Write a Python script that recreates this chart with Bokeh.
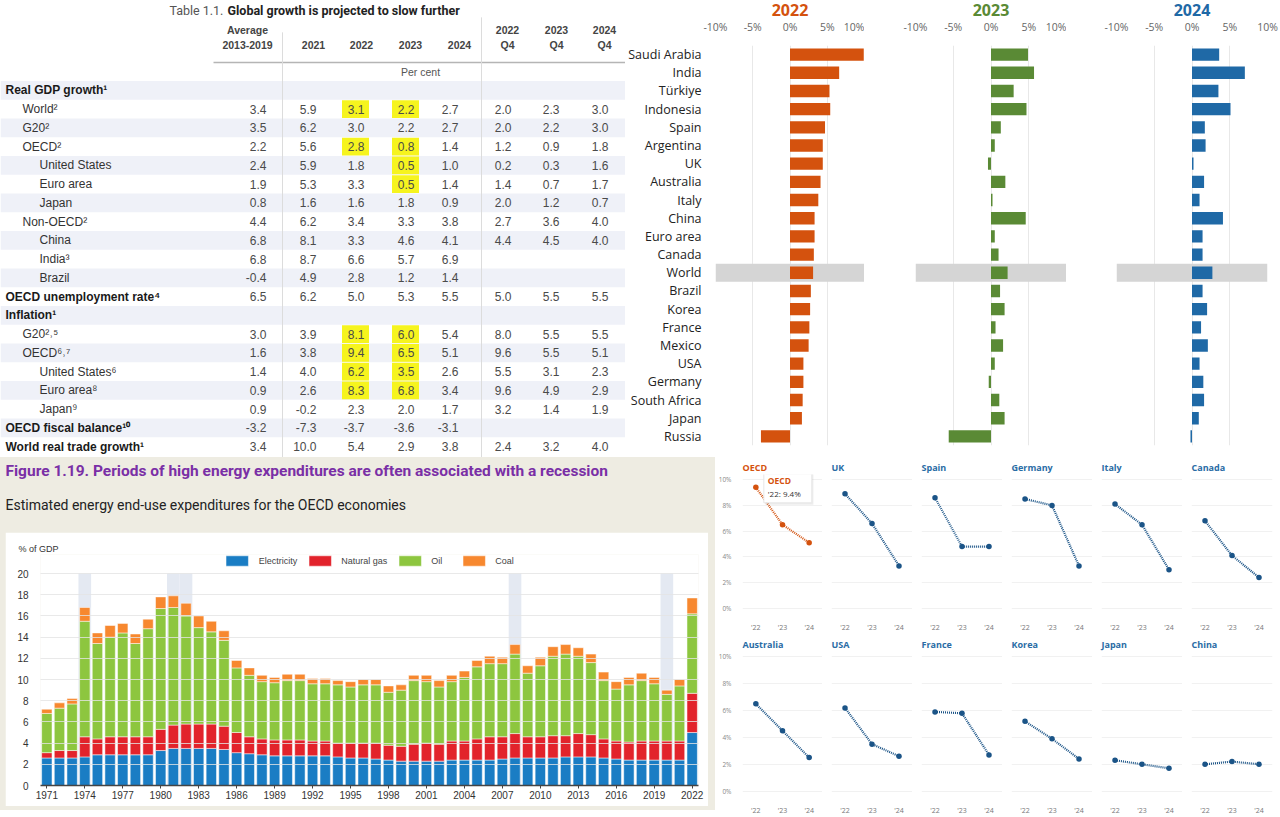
from bokeh.plotting import figure
from bokeh.layouts import row, column
from bokeh.models import ColumnDataSource, FactorRange, Range1d, FixedTicker
from bokeh.core.properties import value
from bokeh.embed import file_html
from bokeh.resources import INLINE

# ===================== DATA =====================
# ---- Table 1.1 ----
table_title_prefix = "Table 1.1. "
table_title = "Global growth is projected to slow further"
table_headers_top = ["Average", "", "", "", "", "2022", "2023", "2024"]
table_headers_bottom = ["2013-2019", "2021", "2022", "2023", "2024", "Q4", "Q4", "Q4"]
table_unit = "Per cent"
row_labels = ["Real GDP growth¹", "World²", "G20²", "OECD²", "United States", "Euro area", "Japan",
              "Non-OECD²", "China", "India³", "Brazil", "OECD unemployment rate⁴", "Inflation¹",
              "G20²˒⁵", "OECD⁶˒⁷", "United States⁶", "Euro area⁸", "Japan⁹",
              "OECD fiscal balance¹⁰", "World real trade growth¹"]
row_levels = [0, 1, 1, 1, 2, 2, 2, 1, 2, 2, 2, 0, 0, 1, 1, 2, 2, 2, 0, 0]
col_avg = [None, 3.4, 3.5, 2.2, 2.4, 1.9, 0.8, 4.4, 6.8, 6.8, -0.4, 6.5, None, 3.0, 1.6, 1.4, 0.9, 0.9, -3.2, 3.4]
col_2021 = [None, 5.9, 6.2, 5.6, 5.9, 5.3, 1.6, 6.2, 8.1, 8.7, 4.9, 6.2, None, 3.9, 3.8, 4.0, 2.6, -0.2, -7.3, 10.0]
col_2022 = [None, 3.1, 3.0, 2.8, 1.8, 3.3, 1.6, 3.4, 3.3, 6.6, 2.8, 5.0, None, 8.1, 9.4, 6.2, 8.3, 2.3, -3.7, 5.4]
col_2023 = [None, 2.2, 2.2, 0.8, 0.5, 0.5, 1.8, 3.3, 4.6, 5.7, 1.2, 5.3, None, 6.0, 6.5, 3.5, 6.8, 2.0, -3.6, 2.9]
col_2024 = [None, 2.7, 2.7, 1.4, 1.0, 1.4, 0.9, 3.8, 4.1, 6.9, 1.4, 5.5, None, 5.4, 5.1, 2.6, 3.4, 1.7, -3.1, 3.8]
col_2022q4 = [None, 2.0, 2.0, 1.2, 0.2, 1.4, 2.0, 2.7, 4.4, None, None, 5.0, None, 8.0, 9.6, 5.5, 9.6, 3.2, None, 2.4]
col_2023q4 = [None, 2.3, 2.2, 0.9, 0.3, 0.7, 1.2, 3.6, 4.5, None, None, 5.5, None, 5.5, 5.5, 3.1, 4.9, 1.4, None, 3.2]
col_2024q4 = [None, 3.0, 3.0, 1.8, 1.6, 1.7, 0.7, 4.0, 4.0, None, None, 5.5, None, 5.5, 5.1, 2.3, 2.9, 1.9, None, 4.0]
table_columns = [col_avg, col_2021, col_2022, col_2023, col_2024, col_2022q4, col_2023q4, col_2024q4]
highlight_cells = [(1, 2), (1, 3), (3, 2), (3, 3), (4, 3), (5, 3),
                   (13, 2), (13, 3), (14, 2), (14, 3), (15, 2), (15, 3), (16, 2), (16, 3)]

# ---- GDP growth bars ----
countries = ["Saudi Arabia", "India", "Türkiye", "Indonesia", "Spain", "Argentina", "UK", "Australia",
             "Italy", "China", "Euro area", "Canada", "World", "Brazil", "Korea", "France", "Mexico",
             "USA", "Germany", "South Africa", "Japan", "Russia"]
growth_2022 = [9.9, 6.6, 5.3, 5.4, 4.7, 4.4, 4.4, 4.1, 3.8, 3.3, 3.3, 3.2, 3.1, 2.8, 2.7, 2.6, 2.5, 1.8, 1.8, 1.7, 1.6, -3.9]
growth_2023 = [4.9, 5.7, 3.0, 4.7, 1.3, 0.5, -0.4, 1.9, 0.2, 4.6, 0.5, 1.0, 2.2, 1.2, 1.8, 0.6, 1.6, 0.5, -0.3, 1.1, 1.8, -5.6]
growth_2024 = [3.6, 7.0, 3.5, 5.1, 1.7, 1.8, 0.2, 1.6, 1.0, 4.1, 1.4, 1.4, 2.7, 1.4, 2.0, 1.2, 2.1, 1.0, 1.5, 1.6, 0.9, -0.2]
highlight_country = "World"
bar_ticks = [-10, -5, 0, 5, 10]

# ---- Figure 1.19 ----
fig_title = "Figure 1.19. Periods of high energy expenditures are often associated with a recession"
fig_subtitle = "Estimated energy end-use expenditures for the OECD economies"
years = [1971, 1972, 1973, 1974, 1975, 1976, 1977, 1978, 1979, 1980,
         1981, 1982, 1983, 1984, 1985, 1986, 1987, 1988, 1989, 1990,
         1991, 1992, 1993, 1994, 1995, 1996, 1997, 1998, 1999, 2000,
         2001, 2002, 2003, 2004, 2005, 2006, 2007, 2008, 2009, 2010,
         2011, 2012, 2013, 2014, 2015, 2016, 2017, 2018, 2019, 2020,
         2021, 2022]
electricity = [2.6, 2.6, 2.6, 2.7, 2.9, 2.9, 2.9, 2.9, 2.9, 3.3,
               3.5, 3.5, 3.5, 3.5, 3.4, 3.1, 3.0, 2.9, 2.8, 2.8,
               2.8, 2.8, 2.8, 2.7, 2.6, 2.6, 2.5, 2.4, 2.3, 2.3,
               2.3, 2.3, 2.4, 2.4, 2.4, 2.4, 2.5, 2.6, 2.6, 2.6,
               2.6, 2.7, 2.7, 2.7, 2.6, 2.5, 2.4, 2.4, 2.4, 2.4,
               2.4, 5.0]
natural_gas = [0.5, 0.7, 0.7, 1.9, 1.5, 1.7, 1.7, 1.7, 1.7, 2.0,
               2.2, 2.3, 2.3, 2.3, 2.2, 1.9, 1.6, 1.5, 1.5, 1.5,
               1.5, 1.4, 1.4, 1.3, 1.4, 1.4, 1.5, 1.4, 1.4, 1.6,
               1.7, 1.6, 1.8, 1.8, 2.0, 2.2, 2.1, 2.3, 2.0, 2.0,
               2.1, 2.0, 2.2, 2.1, 1.8, 1.7, 1.7, 1.8, 1.8, 1.8,
               1.8, 3.7]
oil = [3.7, 4.0, 4.4, 10.9, 9.0, 9.4, 9.8, 8.8, 10.2, 11.4,
       11.1, 10.2, 9.1, 8.7, 8.1, 6.1, 5.8, 5.4, 5.4, 5.6,
       5.6, 5.4, 5.4, 5.5, 5.3, 5.5, 5.5, 5.0, 5.3, 6.0,
       5.8, 5.4, 5.6, 6.0, 6.8, 6.9, 6.9, 7.5, 6.0, 6.7,
       7.5, 7.7, 7.3, 6.8, 5.5, 4.9, 5.4, 5.7, 5.4, 4.4,
       5.2, 7.5]
coal = [0.4, 0.5, 0.5, 1.3, 1.0, 1.1, 0.9, 0.9, 0.9, 1.1,
        1.1, 1.2, 1.1, 1.0, 0.9, 0.7, 0.7, 0.6, 0.5, 0.6,
        0.6, 0.5, 0.5, 0.4, 0.5, 0.5, 0.5, 0.6, 0.5, 0.5,
        0.6, 0.6, 0.6, 0.6, 0.6, 0.7, 0.6, 0.9, 0.7, 0.8,
        0.9, 0.9, 0.8, 0.8, 0.8, 0.7, 0.7, 0.7, 0.6, 0.4,
        0.6, 1.5]
energy_series = ["Electricity", "Natural gas", "Oil", "Coal"]
recession_years = [1974, 1981, 1982, 2008, 2020]
energy_yticks = [0, 2, 4, 6, 8, 10, 12, 14, 16, 18, 20]
recession_top = 20

# ---- Inflation small multiples ----
mm_names = ["OECD", "UK", "Spain", "Germany", "Italy", "Canada",
            "Australia", "USA", "France", "Korea", "Japan", "China"]
mm_years = ["'22", "'23", "'24"]
mm_values = [[9.4, 6.5, 5.1], [8.9, 6.6, 3.3], [8.6, 4.8, 4.8], [8.5, 8.0, 3.3], [8.1, 6.5, 3.0], [6.8, 4.1, 2.4],
             [6.5, 4.5, 2.5], [6.2, 3.5, 2.6], [5.9, 5.8, 2.7], [5.2, 3.9, 2.4], [2.3, 2.0, 1.7], [2.0, 2.2, 2.0]]
mm_yticks = [0, 2, 4, 6, 8, 10]
mm_highlight = "OECD"

# ===================== STYLE =====================
BEIGE = "#eeece2"
ORANGE = "#d4520e"
GREEN = "#5a8a35"
BLUE = "#1f69a6"
SANS = "Liberation Sans"
COND = "Roboto"
OPEN = "Open Sans"


def base(**kw):
    p = figure(output_backend="svg", toolbar_location=None, **kw)
    p.frame_align = False
    return p


# ===================== TABLE =====================
COL_RIGHT = [266, 316, 364, 414, 458, 511, 559, 608]
COL_HEAD = [247, 313, 361, 410, 459, 507, 556, 604]

tbl = base(width=625, height=457, x_range=Range1d(0, 625), y_range=Range1d(19.58, -4.80), min_border=0)
tbl.axis.visible = False
tbl.grid.visible = False
tbl.outline_line_color = None

shade = [i for i in range(len(row_labels)) if i % 2 == 0]
tbl.quad(left=0, right=625, top=[r - 0.5 for r in shade], bottom=[r + 0.5 for r in shade],
         color="#eff1f8", line_color=None)
tbl.rect(x=[COL_RIGHT[c] - 9 for r, c in highlight_cells], y=[r for r, c in highlight_cells],
         width=27, height=0.95, color="#f6f41e", line_color=None)
tbl.segment(x0=[213], y0=[-1.49], x1=[625], y1=[-1.49], line_color="#b5b5b5", line_width=1.5)
tbl.segment(x0=[282, 481], y0=[-3.1, -3.9], x1=[282, 481], y1=[19.58, 19.58], line_color="#dcdcdc", line_width=1)

tbl.text(x=[226], y=[-4.27], text=[table_title_prefix], text_align="right", text_baseline="middle",
         text_font=value(COND), text_font_size="12.5px", text_color="#555555")
tbl.text(x=[227], y=[-4.27], text=[table_title], text_align="left", text_baseline="middle",
         text_font=value(COND), text_font_size="12.5px", text_font_style="bold", text_color="#222222")
tbl.text(x=COL_HEAD, y=[-3.2] * 8, text=table_headers_top, text_align="center", text_baseline="middle",
         text_font=value(SANS), text_font_size="10.5px", text_font_style="bold", text_color="#444444")
tbl.text(x=COL_HEAD, y=[-2.43] * 8, text=table_headers_bottom, text_align="center", text_baseline="middle",
         text_font=value(SANS), text_font_size="10.5px", text_font_style="bold", text_color="#444444")
tbl.text(x=[420], y=[-0.96], text=[table_unit], text_align="center", text_baseline="middle",
         text_font=value(SANS), text_font_size="10.5px", text_color="#555555")

for lvl_bold in (True, False):
    idx = [i for i, l in enumerate(row_levels) if (l == 0) == lvl_bold]
    tbl.text(x=[5 + 17 * row_levels[i] for i in idx], y=idx, text=[row_labels[i] for i in idx],
             text_align="left", text_baseline="middle", text_font=value(SANS), text_font_size="12px",
             text_font_style="bold" if lvl_bold else "normal",
             text_color="#1a1a1a" if lvl_bold else "#333333")

cx, cy, ct = [], [], []
for c, col in enumerate(table_columns):
    for r, v in enumerate(col):
        if v is not None:
            cx.append(COL_RIGHT[c])
            cy.append(r)
            ct.append(f"{v:.1f}")
tbl.text(x=cx, y=cy, text=ct, text_align="right", text_baseline="middle", text_font=value(SANS),
         text_font_size="12px", text_color="#4a4a4a")


# ===================== BAR PANELS =====================
def bar_panel(title, vals, color, width, left, right, show_names):
    p = base(width=width, height=457, y_range=FactorRange(factors=countries[::-1]),
             x_range=Range1d(-10, 10), x_axis_location="above", title=title,
             min_border_left=left, min_border_right=right, min_border_top=45, min_border_bottom=12)
    p.title.align = "center"
    p.title.text_color = color
    p.title.text_font_size = "16px"
    p.title.text_font = OPEN
    p.title.text_font_style = "bold"
    p.title.standoff = 2
    p.outline_line_color = None
    p.hbar(y=[highlight_country], left=-10, right=10, height=1.0, color="#d5d5d5", line_color=None)
    p.hbar(y=countries, left=0, right=vals, height=0.68, color=color, line_color=None)
    p.xaxis.ticker = FixedTicker(ticks=bar_ticks)
    p.xaxis.major_label_overrides = {t: f"{t}%" for t in bar_ticks}
    p.xaxis.axis_line_color = None
    p.xaxis.major_tick_line_color = None
    p.xaxis.minor_tick_line_color = None
    p.xaxis.major_label_text_font_size = "10.5px"
    p.xaxis.major_label_text_color = "#666666"
    p.xaxis.major_label_text_font = OPEN
    p.xaxis.major_label_standoff = 6
    p.xgrid.ticker = FixedTicker(ticks=bar_ticks)
    p.xgrid.grid_line_color = "#e8e8e8"
    p.ygrid.grid_line_color = None
    if show_names:
        p.yaxis.axis_line_color = None
        p.yaxis.major_tick_line_color = None
        p.yaxis.minor_tick_line_color = None
        p.yaxis.major_label_text_font_size = "12.5px"
        p.yaxis.major_label_text_font = OPEN
        p.yaxis.major_label_text_color = "#222222"
        p.yaxis.major_label_standoff = 8
    else:
        p.yaxis.visible = False
    return p


b1 = bar_panel("2022", growth_2022, ORANGE, 239, 88, 0, True)
b2 = bar_panel("2023", growth_2023, GREEN, 202, 51, 0, False)
b3 = bar_panel("2024", growth_2024, BLUE, 214, 50, 13, False)

# ===================== FIGURE 1.19 =====================
hdr = base(width=715, height=75, x_range=Range1d(0, 715), y_range=Range1d(75, 0), min_border=0,
           background_fill_color=BEIGE, border_fill_color=BEIGE)
hdr.axis.visible = False
hdr.grid.visible = False
hdr.outline_line_color = None
hdr.text(x=[5], y=[13], text=[fig_title], text_baseline="middle", text_font=value(COND),
         text_font_size="15.5px", text_font_style="bold", text_color="#7a2fa6")
hdr.text(x=[5], y=[47], text=[fig_subtitle], text_baseline="middle", text_font=value(COND),
         text_font_size="14px", text_color="#222222")

src = ColumnDataSource(dict(year=years, Electricity=electricity, **{"Natural gas": natural_gas},
                            Oil=oil, Coal=coal))
ch = base(width=703, height=274, x_range=Range1d(years[0] - 0.5, years[-1] + 0.5), y_range=Range1d(0, 21.8),
          title="% of GDP", min_border_left=35, min_border_right=10, min_border_top=22,
          min_border_bottom=21, margin=(0, 7, 4, 5))
ch.outline_line_color = None
ch.title.text_font_size = "9px"
ch.title.text_font = SANS
ch.title.text_font_style = "normal"
ch.title.text_color = "#333333"
ch.title.offset = -22
ch.title.standoff = 2
ch.vbar(x=recession_years, top=recession_top, bottom=0, width=1.0, color="#e4e9f2", line_color=None)
ch.vbar_stack(energy_series, x="year", width=0.82, source=src,
              color=["#1a7dc4", "#e2232b", "#8dc63f", "#f7882f"], line_color="white", line_width=0.5,
              legend_label=energy_series)
ch.legend.orientation = "horizontal"
ch.legend.location = "top_center"
ch.legend.glyph_width = 28
ch.legend.glyph_height = 13
ch.legend.label_text_font_size = "9px"
ch.legend.label_text_font = SANS
ch.legend.label_text_color = "#444444"
ch.legend.label_standoff = 8
ch.legend.spacing = 8
ch.legend.padding = 0
ch.legend.margin = 0
ch.legend.background_fill_alpha = 0
ch.legend.border_line_alpha = 0
ch.ygrid.ticker = FixedTicker(ticks=energy_yticks)
ch.ygrid.grid_line_color = "#e3e3e3"
ch.ygrid.grid_line_alpha = 0.8
ch.ygrid.level = "overlay"
ch.xgrid.grid_line_color = None
ch.yaxis.ticker = FixedTicker(ticks=energy_yticks)
ch.yaxis.axis_line_color = None
ch.yaxis.major_tick_line_color = None
ch.yaxis.minor_tick_line_color = None
ch.yaxis.major_label_text_font_size = "10px"
ch.yaxis.major_label_text_font = SANS
ch.yaxis.major_label_text_color = "#333333"
ch.yaxis.major_label_standoff = 6
ch.xaxis.ticker = FixedTicker(ticks=years[::3])
ch.xaxis.axis_line_color = "#444444"
ch.xaxis.axis_line_width = 1.5
ch.xaxis.major_tick_line_color = "#444444"
ch.xaxis.major_tick_out = 3
ch.xaxis.major_tick_in = 0
ch.xaxis.minor_tick_line_color = None
ch.xaxis.major_label_text_font_size = "10px"
ch.xaxis.major_label_text_font = SANS
ch.xaxis.major_label_text_color = "#333333"
ch.xaxis.major_label_standoff = 2

energy_block = column(hdr, ch, styles={"background-color": BEIGE})


# ===================== SMALL MULTIPLES =====================
def mm_panel(i, width, left, right, show_y, height, bottom):
    name = mm_names[i]
    vals = mm_values[i]
    hl = name == mm_highlight
    col = ORANGE if hl else "#2a6ca5"
    dot = ORANGE if hl else "#1b5487"
    p = base(width=width, height=height, x_range=FactorRange(factors=mm_years), y_range=Range1d(-0.4, 10.4),
             title=name, min_border_left=left, min_border_right=right, min_border_top=17,
             min_border_bottom=bottom)
    p.outline_line_color = None
    p.title.text_font = OPEN
    p.title.text_font_size = "9px"
    p.title.text_font_style = "bold"
    p.title.text_color = col
    p.title.standoff = 1
    p.ygrid.ticker = FixedTicker(ticks=mm_yticks)
    p.ygrid.grid_line_color = "#f1f1f1"
    p.xgrid.grid_line_color = None
    p.xaxis.axis_line_color = None
    p.xaxis.major_tick_line_color = None
    p.xaxis.minor_tick_line_color = None
    p.xaxis.major_label_text_font_size = "7px"
    p.xaxis.major_label_text_font = OPEN
    p.xaxis.major_label_text_color = "#777777"
    p.xaxis.major_label_standoff = 3
    if show_y:
        p.yaxis.ticker = FixedTicker(ticks=mm_yticks)
        p.yaxis.major_label_overrides = {t: f"{t}%" for t in mm_yticks}
        p.yaxis.axis_line_color = None
        p.yaxis.major_tick_line_color = None
        p.yaxis.minor_tick_line_color = None
        p.yaxis.major_label_text_font_size = "6.5px"
        p.yaxis.major_label_text_font = OPEN
        p.yaxis.major_label_text_color = "#888888"
        p.yaxis.major_label_standoff = 5
    else:
        p.yaxis.visible = False
    p.line(x=mm_years, y=vals, line_color=dot, line_width=2.2, line_dash="1 1")
    p.scatter(x=mm_years, y=vals, size=5.5, color=dot, line_color=None)
    if hl:
        top = vals[0] + 1.25
        p.quad(left=0.86, right=2.66, top=top - 0.15, bottom=top - 2.6, color="#000000", alpha=0.07, line_color=None)
        p.quad(left=0.8, right=2.6, top=top, bottom=top - 2.45, color="white", line_color="#e6e6e6")
        p.text(x=[0.95], y=[top - 0.7], text=[name], text_baseline="middle", text_font=value(OPEN),
               text_font_size="8.5px", text_font_style="bold", text_color=ORANGE)
        p.text(x=[0.95], y=[top - 1.75], text=[f"{mm_years[0]}: {vals[0]}%"], text_baseline="middle",
               text_font=value(OPEN), text_font_size="8px", text_color="#333333")
    return p


def mm_row(start, height, bottom):
    panels = []
    for j in range(6):
        if j == 0:
            panels.append(mm_panel(start + j, 107, 27, 0, True, height, bottom))
        elif j == 5:
            panels.append(mm_panel(start + j, 98, 9, 8, False, height, bottom))
        else:
            panels.append(mm_panel(start + j, 90, 9, 0, False, height, bottom))
    return row(*panels)


multiples = column(mm_row(0, 177, 14), mm_row(6, 183, 20))

# ===================== LAYOUT =====================
layout = column(row(tbl, b1, b2, b3), row(energy_block, multiples))

open("out.html", "w").write(file_html(layout, INLINE, "OECD Economic Outlook charts"))
